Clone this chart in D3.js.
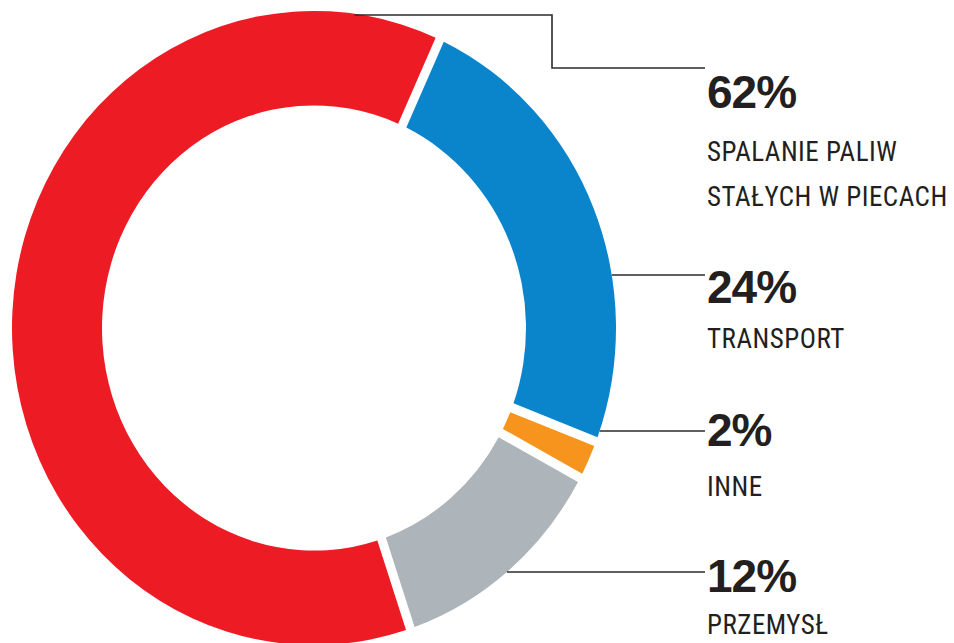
<!DOCTYPE html>
<html>
<head>
<meta charset="utf-8">
<script src="https://cdn.jsdelivr.net/npm/d3@7"></script>
<style>
  body { margin: 0; background: #fff; }
  .pct { font-family: "Liberation Sans", Arial, sans-serif; font-weight: 700; fill: #231f20; }
  .lbl { font-family: "Liberation Sans Narrow", "Roboto Condensed", "DejaVu Sans Condensed", sans-serif; fill: #231f20; }
</style>
</head>
<body>
<div id="chart"></div>
<script>
const categories = ["SPALANIE PALIW STAŁYCH W PIECACH", "TRANSPORT", "INNE", "PRZEMYSŁ"]
const labelLines = [["SPALANIE PALIW", "STAŁYCH W PIECACH"], ["TRANSPORT"], ["INNE"], ["PRZEMYSŁ"]]
const shares = [62, 24, 2, 12]
const colors = ["#ed1c24", "#0a85cc", "#f7941d", "#adb4ba"]

const drawDonut = () => {
  const dataset = categories.map((c, i) => ({
    category: c,
    lines: labelLines[i],
    value: shares[i],
    color: colors[i],
  }))

  const dimensions = {
    width: 954,
    height: 643,
    cx: 314,
    cy: 328,
    stretchY: 1.05,
    outer: 302,
    inner: 212,
  }

  // label blocks, top to bottom, same order as the data
  const labelLayout = [
    { lineY: 68, pctY: 108, subY: [161, 206] },
    { lineY: 275, pctY: 303, subY: [348] },
    { lineY: 431, pctY: 446, subY: [496] },
    { lineY: 572, pctY: 592, subY: [634] },
  ]
  const textX = 707
  const lineEndX = 705

  const wrapper = d3.select("#chart")
    .append("svg")
      .attr("width", dimensions.width)
      .attr("height", dimensions.height)

  const ring = wrapper.append("g")
    .attr("transform", `translate(${dimensions.cx},${dimensions.cy}) scale(1,${dimensions.stretchY})`)

  const start = 161.4 * Math.PI / 180
  const pie = d3.pie()
    .sort(null)
    .value(d => d.value)
    .startAngle(start)
    .endAngle(start + 2 * Math.PI)

  const arc = d3.arc()
    .innerRadius(dimensions.inner)
    .outerRadius(dimensions.outer)
    .padRadius(260)
    .padAngle(9 / 260)

  ring.selectAll("path")
    .data(pie(dataset))
    .join("path")
      .attr("fill", d => d.data.color)
      .attr("d", arc)

  // x where a horizontal line at y meets the outer edge (right side)
  const outerX = y => {
    const dy = (y - dimensions.cy) / dimensions.stretchY
    return dimensions.cx + Math.sqrt(Math.max(0, dimensions.outer ** 2 - dy ** 2))
  }

  const leaders = wrapper.append("g")
    .attr("fill", "none")
    .attr("stroke", "#2b2b2b")
    .attr("stroke-width", 1.6)

  dataset.forEach((d, i) => {
    const pos = labelLayout[i]
    let points
    if (i === 0) {
      const topY = 15
      points = [[outerX(topY) - 8, topY], [552, topY], [552, pos.lineY], [lineEndX, pos.lineY]]
    } else {
      points = [[outerX(pos.lineY), pos.lineY], [lineEndX, pos.lineY]]
    }
    leaders.append("path").attr("d", d3.line()(points))
  })

  const labels = wrapper.append("g")

  dataset.forEach((d, i) => {
    const pos = labelLayout[i]
    labels.append("text")
      .attr("class", "pct")
      .attr("x", textX)
      .attr("y", pos.pctY)
      .attr("font-size", 46)
      .attr("letter-spacing", -1)
      .text(`${d.value}%`)
    d.lines.forEach((line, j) => {
      labels.append("text")
        .attr("class", "lbl")
        .attr("x", textX)
        .attr("y", pos.subY[j])
        .attr("font-size", 27)
        .attr("letter-spacing", 0.5)
        .text(line)
    })
  })
}

drawDonut()
</script>
</body>
</html>
